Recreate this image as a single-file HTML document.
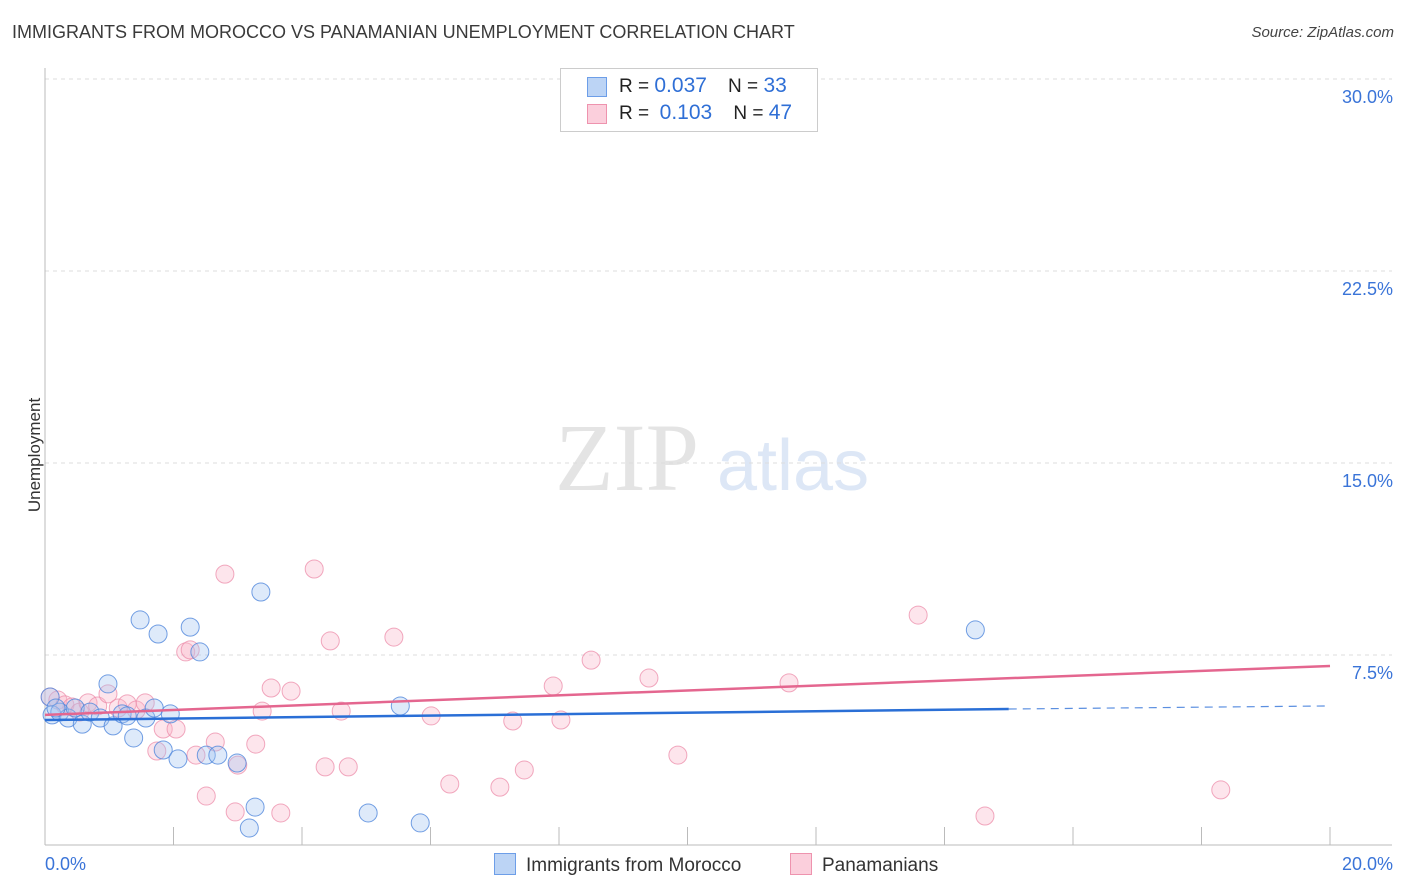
<!DOCTYPE html>
<html><head><meta charset="utf-8"><style>
body{margin:0;background:#fff;font-family:"Liberation Sans",sans-serif;}
#wrap{position:relative;width:1406px;height:892px;overflow:hidden}
.t{position:absolute;white-space:nowrap}
.v{color:#2f6fd6;font-size:21px}
</style></head><body>
<div id="wrap">
<div class="t" style="left:12px;top:22px;font-size:18px;color:#3a3a3a">IMMIGRANTS FROM MOROCCO VS PANAMANIAN UNEMPLOYMENT CORRELATION CHART</div>
<div class="t" style="right:12px;top:24px;font-size:15px;color:#444;font-style:italic">Source: ZipAtlas.com</div>
<div class="t" style="left:-22px;top:445px;font-size:17px;color:#333;transform:rotate(-90deg)">Unemployment</div>
<svg id="svg" width="1406" height="892" style="position:absolute;left:0;top:0"></svg>
<div class="t" style="left:560px;top:68px;width:256px;height:62px;border:1px solid #ccc;background:#fff;font-size:19px;color:#222">
 <div style="position:absolute;left:26px;top:8px;width:18px;height:18px;background:#bcd4f5;border:1px solid #6d9ee8"></div>
 <div style="position:absolute;left:58px;top:5px">R = <span class="v">0.037</span>&nbsp;&nbsp;&nbsp; N = <span class="v">33</span></div>
 <div style="position:absolute;left:26px;top:35px;width:18px;height:18px;background:#fbcfdc;border:1px solid #ee93ae"></div>
 <div style="position:absolute;left:58px;top:32px">R = &nbsp;<span class="v">0.103</span>&nbsp;&nbsp;&nbsp; N = <span class="v">47</span></div>
</div>
<div class="t" style="left:494px;top:853px;font-size:19px;color:#333"><span style="display:inline-block;width:20px;height:20px;background:#bcd4f5;border:1px solid #6d9ee8;vertical-align:-4px;margin-right:10px"></span>Immigrants from Morocco</div>
<div class="t" style="left:790px;top:853px;font-size:19px;color:#333"><span style="display:inline-block;width:20px;height:20px;background:#fbcfdc;border:1px solid #ee93ae;vertical-align:-4px;margin-right:10px"></span>Panamanians</div>
</div>
<script>
const yTicks=[7.5,15,22.5,30];
const yTickLabels=["7.5%","15.0%","22.5%","30.0%"];
const xTickLabels=["0.0%","20.0%"];
const blueX=[0.08,0.11,0.23,0.36,0.47,0.58,0.7,0.86,0.98,1.06,1.2,1.28,1.38,1.48,1.57,1.7,1.76,1.84,1.95,2.07,2.26,2.41,2.51,2.69,2.99,3.18,3.27,3.36,5.03,5.53,5.84,14.48,0.17];
const blueY=[5.86,5.16,5.27,5.04,5.43,4.8,5.27,5.04,6.37,4.73,5.2,5.12,4.26,8.87,5.04,5.43,8.32,3.79,5.2,3.44,8.59,7.62,3.59,3.59,3.28,0.74,1.56,9.96,1.33,5.51,0.94,8.48,5.43];
const pinkX=[0.08,0.2,0.31,0.42,0.54,0.67,0.82,0.98,1.14,1.28,1.42,1.56,1.74,1.84,2.04,2.19,2.26,2.35,2.51,2.65,2.8,2.96,3.0,3.28,3.38,3.52,3.67,3.83,4.19,4.36,4.44,4.61,4.72,5.43,6.01,6.3,7.08,7.28,7.46,8.03,7.91,8.5,9.4,9.85,11.58,13.59,14.63,18.3];
const pinkY=[5.86,5.74,5.55,5.47,5.27,5.63,5.51,5.98,5.43,5.59,5.35,5.63,3.75,4.61,4.61,7.62,7.7,3.59,1.99,4.1,10.66,1.37,3.2,4.02,5.31,6.21,1.33,6.09,10.86,3.13,8.05,5.31,3.13,8.2,5.12,2.46,2.34,4.92,3.01,4.96,6.29,7.3,6.6,3.59,6.41,9.06,1.21,2.23];
const blueTrend=[[0,4.96],[15,5.39],[20,5.51]];
const pinkTrend=[[0,5.16],[20,7.07]];
const X0=45,X1=1330,Y0=847,PX=25.6;
const sx=v=>X0+(X1-X0)*v/20, sy=v=>Y0-v*PX;
const svg=document.getElementById('svg');const NS='http://www.w3.org/2000/svg';
function mk(t,a){const e=document.createElementNS(NS,t);for(const k in a)e.setAttribute(k,a[k]);svg.appendChild(e);return e;}
let w=mk('text',{x:555,y:490,'font-size':96,'font-family':'Liberation Serif,serif',fill:'#e4e4e4'});w.textContent='ZIP';


let w2=mk('text',{x:717,y:490,'font-size':72,'font-family':'Liberation Sans,sans-serif',fill:'#dde7f6'});w2.textContent='atlas';


yTicks.forEach((t,i)=>{
 const g=mk('line',{x1:X0,x2:1392,y1:sy(t),y2:sy(t),stroke:'#ddd','stroke-dasharray':'4,4'});
 
 
 const l=mk('text',{x:1393,y:sy(t)+24,'text-anchor':'end','font-size':18,fill:'#3a74d8','font-family':'Liberation Sans,sans-serif'});l.textContent=yTickLabels[i];
 
 
});
const ax=mk('line',{x1:X0,x2:X0,y1:68,y2:845,stroke:'#bbb'});


const bx=mk('line',{x1:X0,x2:1392,y1:845,y2:845,stroke:'#bbb'});


for(let i=1;i<=10;i++){const tk=mk('line',{x1:sx(i*2),x2:sx(i*2),y1:827,y2:845,stroke:'#bbb'});
 
 }
[[0,'start',X0],[1,'end',1393]].forEach(([i,a,x])=>{const l=mk('text',{x:x,y:870,'text-anchor':a,'font-size':18,fill:'#3a74d8','font-family':'Liberation Sans,sans-serif'});l.textContent=xTickLabels[i];
 
 });
pinkX.forEach((x,i)=>{const c=mk('circle',{cx:sx(x),cy:sy(pinkY[i]),r:9,fill:'rgba(248,180,200,0.35)',stroke:'rgba(236,140,170,0.75)','stroke-width':1});
 
 });
blueX.forEach((x,i)=>{const c=mk('circle',{cx:sx(x),cy:sy(blueY[i]),r:9,fill:'rgba(160,195,240,0.35)',stroke:'rgba(80,135,220,0.8)','stroke-width':1});
 
 });
const pl=mk('line',{x1:sx(pinkTrend[0][0]),y1:sy(pinkTrend[0][1]),x2:sx(pinkTrend[1][0]),y2:sy(pinkTrend[1][1]),stroke:'#e4668f','stroke-width':2.5});


const bl=mk('line',{x1:sx(blueTrend[0][0]),y1:sy(blueTrend[0][1]),x2:sx(blueTrend[1][0]),y2:sy(blueTrend[1][1]),stroke:'#2a6fd6','stroke-width':2.5});


const bd=mk('line',{x1:sx(blueTrend[1][0]),y1:sy(blueTrend[1][1]),x2:sx(blueTrend[2][0]),y2:sy(blueTrend[2][1]),stroke:'#5b8fe0','stroke-width':1.2,'stroke-dasharray':'8,6'});


</script>
</body></html>
